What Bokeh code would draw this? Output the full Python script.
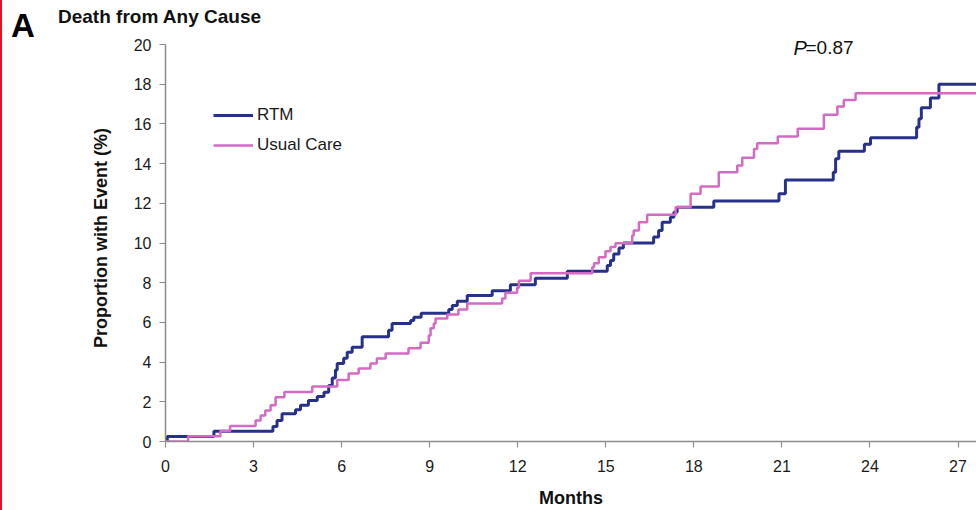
from bokeh.plotting import figure
from bokeh.models import Range1d, Label, Legend, LegendItem, FixedTicker, Div
from bokeh.layouts import column
from bokeh.embed import file_html
from bokeh.resources import INLINE

# ---- data ----
rtm_months = [0, 0.06, 1.65, 3.66, 3.8, 3.97, 4.43, 4.6, 4.87, 5.17, 5.4, 5.56, 5.68, 5.79,
              5.85, 6.07, 6.19, 6.36, 6.7, 7.6, 7.72, 8.35, 8.46, 8.71, 9.65, 9.77, 9.94,
              10.28, 11.13, 11.75, 12.6, 13.69, 15.05, 15.16, 15.27, 15.45, 15.6, 16.63,
              16.8, 16.92, 17.2, 17.32, 17.43, 18.68, 20.9, 21.12, 22.75, 22.83, 22.94,
              23.81, 24.02, 25.59, 25.67, 25.75, 26.06, 26.35, 28.0]
rtm_pct = [0, 0.25, 0.52, 0.75, 1.06, 1.40, 1.60, 1.82, 2.07, 2.27, 2.48, 2.82, 3.2, 3.6,
           3.93, 4.2, 4.5, 4.75, 5.28, 5.6, 5.94, 6.1, 6.26, 6.46, 6.65, 6.85, 7.07,
           7.35, 7.6, 7.9, 8.23, 8.58, 8.87, 9.12, 9.45, 9.75, 10.0, 10.3,
           10.63, 11.05, 11.3, 11.55, 11.8, 12.11, 12.48, 13.18, 13.57, 14.24, 14.62,
           14.98, 15.3, 15.83, 16.26, 16.81, 17.31, 18.0, 18.0]

uc_months = [0, 0.77, 1.87, 2.2, 3.07, 3.24, 3.4, 3.58, 3.75, 4.05, 5.0, 5.85, 6.24, 6.58,
             6.98, 7.2, 7.5, 8.28, 8.69, 8.97, 9.03, 9.14, 9.2, 9.6, 9.98, 10.28, 11.47,
             11.58, 11.98, 12.04, 12.44, 14.54, 14.6, 14.76, 14.99, 15.16, 15.33, 15.9,
             15.95, 16.13, 16.41, 17.38, 17.89, 18.23, 18.85, 19.48, 19.65, 20.05, 20.16,
             20.86, 21.54, 22.43, 22.89, 23.11, 23.51, 28.0]
uc_pct = [0, 0.26, 0.53, 0.78, 1.06, 1.31, 1.56, 1.83, 2.23, 2.5, 2.77, 3.1, 3.42, 3.68,
          3.93, 4.18, 4.43, 4.7, 4.98, 5.34, 5.7, 5.94, 6.2, 6.4, 6.65, 6.95, 7.2,
          7.5, 7.75, 8.1, 8.48, 8.78, 8.98, 9.28, 9.59, 9.8, 9.99, 10.38,
          10.63, 11.05, 11.42, 11.8, 12.48, 12.85, 13.57, 13.9, 14.29, 14.74, 15.03,
          15.37, 15.75, 16.46, 16.88, 17.21, 17.55, 17.55]

x_ticks = [0, 3, 6, 9, 12, 15, 18, 21, 24, 27]
y_ticks = [0, 2, 4, 6, 8, 10, 12, 14, 16, 18, 20]

FONT = "Liberation Sans"
BLUE = "#28318a"
PINK = "#d46ac4"

W, H = 976, 510
HEAD = 34                      # header strip height (panel letter + title)
LEFT, BOTTOM = 165, 69
PX_PER_PCT = (441 - 44) / 20.0
X_END = 27.63
Y_END = 20 + (44 - HEAD) / PX_PER_PCT

header_html = (
    "<div style=\"position:relative;width:%dpx;height:%dpx;"
    "font-family:'Liberation Sans',Arial,sans-serif;color:#000;\">"
    "<div style=\"position:absolute;left:0;top:0;width:2px;height:%dpx;background:#e8101e;\"></div>"
    "<div style=\"position:absolute;left:11px;top:9px;font-size:33px;font-weight:bold;"
    "line-height:33px;\">A</div>"
    "<div style=\"position:absolute;left:58px;top:6px;font-size:19px;font-weight:bold;"
    "line-height:21px;color:#111;white-space:nowrap;\">Death from Any Cause</div>"
    "</div>" % (W, HEAD, H)
)
header = Div(text=header_html, width=W, height=HEAD, margin=0)

p = figure(width=W, height=H - HEAD, output_backend="svg", toolbar_location=None,
           x_range=Range1d(0, X_END), y_range=Range1d(0, Y_END),
           min_border_left=LEFT, min_border_right=0, min_border_top=0,
           min_border_bottom=BOTTOM, margin=0)
p.outline_line_color = None
p.xgrid.visible = False
p.ygrid.visible = False
p.background_fill_color = None
p.border_fill_color = None

r_rtm = p.step(rtm_months, rtm_pct, mode="after", line_color=BLUE, line_width=3)
r_uc = p.step(uc_months, uc_pct, mode="after", line_color=PINK, line_width=2.5)

for ax in (p.xaxis[0], p.yaxis[0]):
    ax.axis_line_color = "#8c8c8c"
    ax.axis_line_width = 1.5
    ax.major_tick_line_color = "#8c8c8c"
    ax.major_tick_line_width = 1.2
    ax.major_tick_out = 6
    ax.major_tick_in = 0
    ax.minor_tick_line_color = None
    ax.major_label_text_font = FONT
    ax.major_label_text_font_size = "16px"
    ax.major_label_text_color = "#1a1a1a"
    ax.axis_label_text_font = FONT
    ax.axis_label_text_font_size = "18px"
    ax.axis_label_text_font_style = "bold"
    ax.axis_label_text_color = "#111111"

p.xaxis[0].ticker = FixedTicker(ticks=x_ticks)
p.yaxis[0].ticker = FixedTicker(ticks=y_ticks)
p.yaxis[0].bounds = (0, 20)
p.xaxis[0].axis_label = "Months"
p.yaxis[0].axis_label = "Proportion with Event (%)"
p.xaxis[0].major_label_standoff = 12
p.xaxis[0].axis_label_standoff = 13
p.yaxis[0].major_label_standoff = 8
p.yaxis[0].axis_label_standoff = 20

legend = Legend(items=[LegendItem(label="RTM", renderers=[r_rtm]),
                       LegendItem(label="Usual Care", renderers=[r_uc])],
                location=(48, 286))
legend.label_text_font = FONT
legend.label_text_font_size = "17px"
legend.label_text_color = "#1a1a1a"
legend.glyph_width = 40
legend.glyph_height = 20
legend.label_height = 20
legend.spacing = 10
legend.padding = 0
legend.margin = 0
legend.label_standoff = 4
legend.border_line_color = None
legend.background_fill_alpha = 0
p.add_layout(legend)

def px2x(px):
    return (px - LEFT) * X_END / (W - LEFT)

def py2y(py):
    return (441 - py) / PX_PER_PCT

p.add_layout(Label(x=px2x(793), y=py2y(47), text="P", text_font=FONT,
                   text_font_size="20px", text_font_style="italic",
                   text_baseline="middle", text_align="left", text_color="#111111"))
p.add_layout(Label(x=px2x(805), y=py2y(47), text="=0.87", text_font=FONT,
                   text_font_size="19px",
                   text_baseline="middle", text_align="left", text_color="#111111"))

layout = column(header, p, spacing=0)
open("out.html", "w").write(file_html(layout, INLINE))
